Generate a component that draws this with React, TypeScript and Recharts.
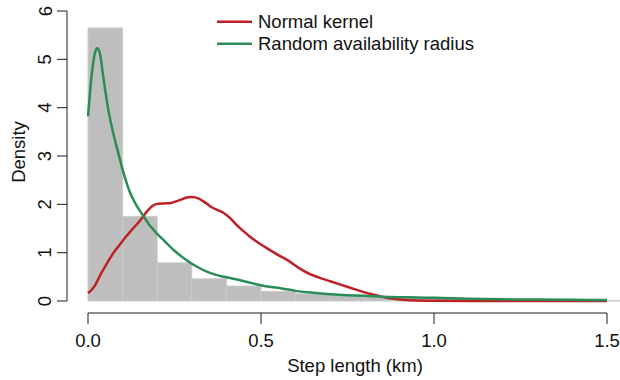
import React from "react";
import { LineChart, Line, XAxis, YAxis, ReferenceArea, ReferenceLine, Legend } from "recharts";

// Histogram (density per 0.1 km bin)
const histEdges = [0, 0.1, 0.2, 0.3, 0.4, 0.5, 0.6, 0.7, 0.8, 0.9, 1.0, 1.1, 1.2, 1.3, 1.4, 1.5, 1.6];
const histDensity = [5.65, 1.75, 0.79, 0.46, 0.31, 0.2, 0.15, 0.11, 0.09, 0.07, 0.055, 0.02, 0.015, 0.01, 0.01, 0.01];

// Normal kernel curve
const normalX = [0, 0.02, 0.035, 0.05, 0.073, 0.09, 0.112, 0.13, 0.15, 0.17, 0.185, 0.2, 0.22, 0.24, 0.266, 0.285, 0.3, 0.32, 0.34, 0.36, 0.39, 0.41, 0.43, 0.45, 0.47, 0.5, 0.52, 0.55, 0.58, 0.61, 0.64, 0.67, 0.7, 0.73, 0.76, 0.79, 0.82, 0.85, 0.88, 0.91, 0.95, 1.0, 1.1, 1.2, 1.3, 1.4, 1.5];
const normalY = [0.16, 0.32, 0.53, 0.72, 0.99, 1.15, 1.35, 1.5, 1.66, 1.85, 1.96, 2.01, 2.02, 2.03, 2.09, 2.14, 2.15, 2.12, 2.03, 1.93, 1.83, 1.72, 1.57, 1.44, 1.32, 1.17, 1.08, 0.95, 0.83, 0.68, 0.56, 0.48, 0.41, 0.34, 0.27, 0.2, 0.14, 0.09, 0.05, 0.025, 0.01, 0.005, 0.0, 0.0, 0.0, 0.0, 0.0];

// Random availability radius curve
const radiusX = [0, 0.005, 0.01, 0.015, 0.019, 0.023, 0.027, 0.031, 0.035, 0.044, 0.059, 0.073, 0.088, 0.1, 0.107, 0.12, 0.14, 0.16, 0.18, 0.2, 0.22, 0.25, 0.28, 0.31, 0.34, 0.37, 0.4, 0.44, 0.48, 0.52, 0.56, 0.6, 0.65, 0.7, 0.75, 0.8, 0.85, 0.9, 0.95, 1.0, 1.05, 1.1, 1.2, 1.3, 1.4, 1.5];
const radiusY = [3.82, 4.25, 4.64, 4.92, 5.1, 5.2, 5.23, 5.2, 5.1, 4.64, 3.95, 3.47, 3.05, 2.72, 2.55, 2.27, 1.98, 1.76, 1.55, 1.39, 1.25, 1.04, 0.87, 0.73, 0.62, 0.54, 0.49, 0.43, 0.36, 0.3, 0.26, 0.21, 0.17, 0.14, 0.12, 0.11, 0.09, 0.08, 0.075, 0.065, 0.055, 0.045, 0.035, 0.03, 0.025, 0.02];

const xTicks = [0, 0.5, 1.0, 1.5];
const yTicks = [0, 1, 2, 3, 4, 5, 6];

const normalData = normalX.map((x, i) => ({ x, y: normalY[i] }));
const radiusData = radiusX.map((x, i) => ({ x, y: radiusY[i] }));

const X_MIN = -0.0607;
const X_MAX = 1.5607;
const Y_MIN = -0.248;
const Y_MAX = 6.228;

const FONT = "'Liberation Sans', Arial, Helvetica, sans-serif";
const RED = "#BE2026";
const GREEN = "#2A8C57";
const AXIS = "#1a1a1a";

const YTick = (props: any) => {
  const { y, payload } = props;
  const cx = 51.5;
  return (
    <text
      x={cx}
      y={y}
      transform={`rotate(-90, ${cx}, ${y})`}
      textAnchor="middle"
      fontSize={18.5}
      fontFamily={FONT}
      fill="#111"
    >
      {String(payload.value)}
    </text>
  );
};

const renderLegend = (props: any) => {
  const { payload } = props;
  return (
    <div style={{ fontFamily: FONT, fontSize: 18.5, color: "#111" }}>
      {(payload || []).map((entry: any, i: number) => (
        <div key={i} style={{ display: "flex", alignItems: "center", height: 21.5, lineHeight: "21.5px", whiteSpace: "nowrap" }}>
          <svg width={41} height={21.5} style={{ display: "block" }}>
            <line x1={0} x2={35} y1={10.75} y2={10.75} stroke={entry.color} strokeWidth={2.5} />
          </svg>
          <span>{entry.value}</span>
        </div>
      ))}
    </div>
  );
};

export default function App() {
  return (
    <div style={{ position: "absolute", left: 0, top: 0, width: 620, height: 380, overflow: "hidden", background: "#fff" }}>
      <LineChart width={628} height={380} margin={{ top: 0, right: 0, bottom: 0, left: 0 }}>
        <XAxis
          type="number"
          dataKey="x"
          domain={[X_MIN, X_MAX]}
          allowDataOverflow
          ticks={xTicks}
          interval={0}
          tickFormatter={(v: number) => v.toFixed(1)}
          axisLine={false}
          tickLine={{ stroke: AXIS, strokeWidth: 1 }}
          tickSize={11}
          tickMargin={10}
          height={67}
          tick={{ fontSize: 18.5, fontFamily: FONT, fill: "#111" }}
          label={(p: any) => (
            <text x={355} y={372} textAnchor="middle" fontSize={18.5} fontFamily={FONT} fill="#111">
              Step length (km)
            </text>
          )}
        />
        <YAxis
          type="number"
          domain={[Y_MIN, Y_MAX]}
          allowDataOverflow
          ticks={yTicks}
          interval={0}
          axisLine={false}
          tickLine={{ stroke: AXIS, strokeWidth: 1 }}
          tickSize={10}
          width={67}
          tick={<YTick />}
          label={(p: any) => (
            <text x={24.6} y={152} transform="rotate(-90, 24.6, 152)" textAnchor="middle" fontSize={18.5} fontFamily={FONT} fill="#111">
              Density
            </text>
          )}
        />
        {histDensity.map((d, i) => (
          <ReferenceArea
            key={`bin-${i}`}
            x1={histEdges[i]}
            x2={histEdges[i + 1]}
            y1={0}
            y2={d}
            ifOverflow="visible"
            fill="#BEBEBE"
            fillOpacity={1}
            stroke="#CBCBCB"
            strokeWidth={1}
          />
        ))}
        <ReferenceLine
          segment={[{ x: xTicks[0], y: Y_MIN }, { x: xTicks[xTicks.length - 1], y: Y_MIN }]}
          stroke={AXIS}
          strokeWidth={1}
          ifOverflow="visible"
        />
        <ReferenceLine
          segment={[{ x: X_MIN, y: yTicks[0] }, { x: X_MIN, y: yTicks[yTicks.length - 1] }]}
          stroke={AXIS}
          strokeWidth={1}
          ifOverflow="visible"
        />
        <Line
          data={normalData}
          dataKey="y"
          name="Normal kernel"
          type="monotone"
          stroke={RED}
          strokeWidth={2.5}
          dot={false}
          activeDot={false}
          isAnimationActive={false}
        />
        <Line
          data={radiusData}
          dataKey="y"
          name="Random availability radius"
          type="monotone"
          stroke={GREEN}
          strokeWidth={2.5}
          dot={false}
          activeDot={false}
          isAnimationActive={false}
        />
        <Legend
          layout="vertical"
          align="center"
          verticalAlign="middle"
          content={renderLegend}
          wrapperStyle={{ left: 217, top: 11, width: 320, height: "auto" }}
        />
      </LineChart>
    </div>
  );
}
